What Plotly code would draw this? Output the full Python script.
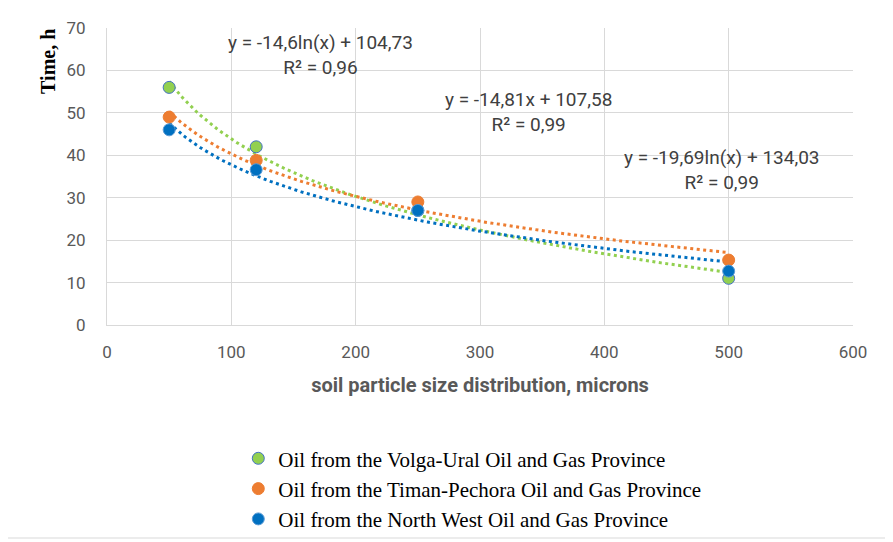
import numpy as np
import plotly.graph_objects as go

x_vals = [50, 120, 250, 500]
volga = [56, 42, 27, 11]
timan = [49, 38.8, 29, 15.3]
northwest = [46, 36.6, 27, 12.7]

names = ["Oil from the Volga-Ural Oil and Gas Province",
         "Oil from the Timan-Pechora Oil and Gas Province",
         "Oil from the North West Oil and Gas Province"]
colors = ["#92D050", "#ED7D31", "#0070C0"]
outline = ["#4472C4", "#ED7D31", "#5B9BD5"]
series = [volga, timan, northwest]

eq_texts = ["y = -14,6ln(x) + 104,73<br>R² = 0,96",
            "y = -14,81x + 107,58<br>R² = 0,99",
            "y = -19,69ln(x) + 134,03<br>R² = 0,99"]
eq_x = [172, 339, 495]
eq_y = [63.6, 50.3, 36.6]

sans = "Roboto, Open Sans, sans-serif"
serif = "Liberation Serif, Times New Roman, serif"

fig = go.Figure()

# logarithmic trendlines fitted from the data
xx = np.linspace(min(x_vals), max(x_vals), 200)
for ys, c in zip(series, colors):
    a, b = np.polyfit(np.log(x_vals), ys, 1)
    fig.add_trace(go.Scatter(x=xx, y=a * np.log(xx) + b, mode="lines",
                             line=dict(color=c, width=3, dash="3px,3.5px"),
                             showlegend=False, hoverinfo="skip"))

for ys, c, oc, n in zip(series, colors, outline, names):
    fig.add_trace(go.Scatter(x=x_vals, y=ys, mode="markers", name=n,
                             marker=dict(color=c, size=12, symbol="circle",
                                         line=dict(color=oc, width=1))))

for t, ex, ey in zip(eq_texts, eq_x, eq_y):
    fig.add_annotation(x=ex, y=ey, text=t, showarrow=False,
                       font=dict(family=sans, size=19, color="#404040"))

fig.add_annotation(xref="paper", yref="paper", x=-0.080, y=0.887, text="<b>Time, h</b>",
                   textangle=-90, showarrow=False, xanchor="center", yanchor="middle",
                   font=dict(family=serif, size=20, color="#000000"))

tick_font = dict(family=sans, size=17, color="#595959")

fig.update_xaxes(range=[0, 600], dtick=100, showgrid=True, gridcolor="#d9d9d9", gridwidth=1,
                 zeroline=False, showline=True, linecolor="#d9d9d9", tickfont=tick_font,
                 ticks="outside", ticklen=12, tickcolor="rgba(0,0,0,0)",
                 title=dict(text="<b>soil particle size distribution, microns</b>", standoff=16,
                            font=dict(family=sans, size=20, color="#595959")))
fig.update_yaxes(range=[0, 70], dtick=10, showgrid=True, gridcolor="#d9d9d9", gridwidth=1,
                 zeroline=False, showline=True, linecolor="#d9d9d9", tickfont=tick_font,
                 ticks="outside", ticklen=17, tickcolor="rgba(0,0,0,0)")

fig.update_layout(
    width=893, height=542,
    margin=dict(l=99, r=48, t=20, b=225, autoexpand=False),
    plot_bgcolor="white", paper_bgcolor="white",
    showlegend=True,
    legend=dict(x=0.176, y=-0.381, xanchor="left", yanchor="top", tracegroupgap=0,
                font=dict(family=serif, size=21, color="#000000"),
                itemwidth=30, bgcolor="rgba(0,0,0,0)"),
    shapes=[dict(type="rect", xref="paper", yref="paper",
                 x0=-104/746, x1=1 + 36/746, y0=-213/297, y1=1 + 25/297,
                 line=dict(color="#d9d9d9", width=1))],
)

fig.write_html("out.html")
